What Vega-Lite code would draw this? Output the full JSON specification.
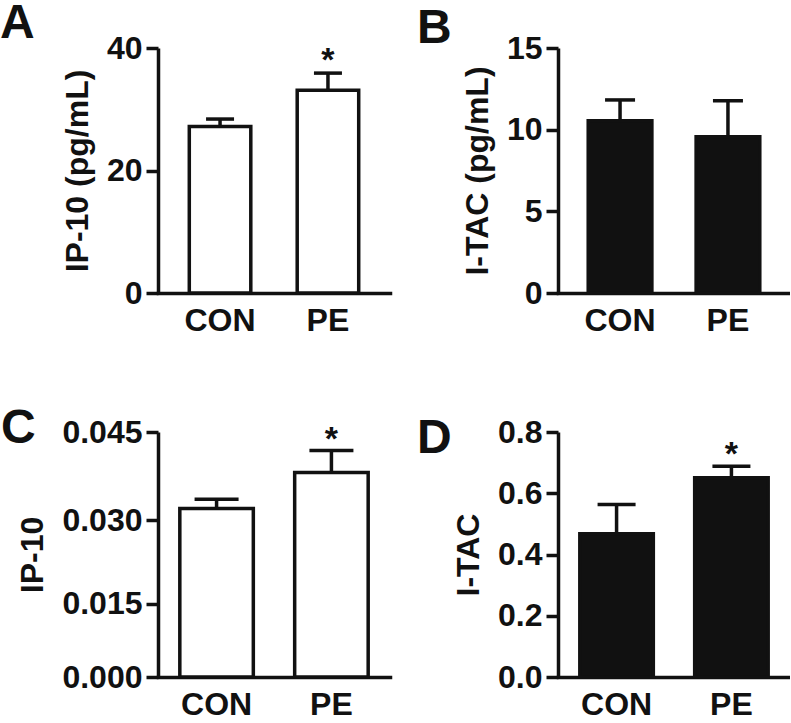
{
  "$schema": "https://vega.github.io/schema/vega-lite/v6.json",
  "padding": 0,
  "background": "white",
  "columns": 2,
  "spacing": {"row": 139, "column": 168},
  "bounds": "flush",
  "align": "all",
  "config": {
    "font": "Liberation Sans",
    "view": {"stroke": null},
    "axis": {
      "domainColor": "#111", "domainWidth": 3.5, "tickColor": "#111", "tickWidth": 3.5,
      "labelFont": "Liberation Sans", "labelFontWeight": "bold", "labelFontSize": 32, "labelColor": "#111",
      "titleFont": "Liberation Sans", "titleFontWeight": "bold", "titleFontSize": 32, "titleColor": "#111",
      "grid": false
    },
    "axisX": {"ticks": false, "labelAngle": 0, "labelPadding": 12, "title": null, "domainCap": "square"},
    "axisY": {"tickSize": 12, "labelPadding": 4, "titlePadding": 12},
    "title": {"font": "Liberation Sans", "fontSize": 48, "fontWeight": "bold", "anchor": "start", "frame": "group", "color": "#111", "offset": 0}
  },
  "concat": [
    {
      "title": {"text": "A", "dx": -158, "dy": 20},
      "width": 232, "height": 245,
      "data": {"values": [
        {"group": "CON", "mean": 27.2, "upper": 28.4, "sig": ""},
        {"group": "PE", "mean": 33.1, "upper": 35.9, "sig": "*"}
      ]},
      "encoding": {"x": {"field": "group", "type": "nominal", "sort": ["CON", "PE"], "scale": {"paddingInner": 0.43, "paddingOuter": 0.29}, "axis": {"title": null}}},
      "layer": [
        {"mark": {"type": "rule", "stroke": "#111", "strokeWidth": 3.5},
         "encoding": {"y": {"field": "mean", "type": "quantitative", "scale": {"domain": [0, 40]}, "axis": {"values": [0, 20, 40], "title": "IP-10 (pg/mL)"}}, "y2": {"field": "upper"}}},
        {"mark": {"type": "tick", "color": "#111", "thickness": 3.5, "size": 28, "opacity": 1},
         "encoding": {"y": {"field": "upper", "type": "quantitative", "scale": {"domain": [0, 40]}, "axis": {"values": [0, 20, 40], "title": "IP-10 (pg/mL)"}}}},
        {"mark": {"type": "bar", "fill": "white", "stroke": "#111", "strokeWidth": 3.5},
         "encoding": {"y": {"field": "mean", "type": "quantitative", "scale": {"domain": [0, 40]}, "axis": {"values": [0, 20, 40], "title": "IP-10 (pg/mL)"}}}},
        {"mark": {"type": "text", "fontSize": 34, "fontWeight": "bold", "baseline": "alphabetic", "dy": -2, "color": "#111"},
         "encoding": {"y": {"field": "upper", "type": "quantitative", "scale": {"domain": [0, 40]}, "axis": {"values": [0, 20, 40], "title": "IP-10 (pg/mL)"}}, "text": {"field": "sig"}}}
      ]
    },
    {
      "title": {"text": "B", "dx": -141, "dy": 25},
      "width": 232, "height": 245,
      "data": {"values": [
        {"group": "CON", "mean": 10.54, "upper": 11.82, "sig": ""},
        {"group": "PE", "mean": 9.56, "upper": 11.77, "sig": ""}
      ]},
      "encoding": {"x": {"field": "group", "type": "nominal", "sort": ["CON", "PE"], "scale": {"paddingInner": 0.41, "paddingOuter": 0.28}, "axis": {"title": null}}},
      "layer": [
        {"mark": {"type": "rule", "stroke": "#111", "strokeWidth": 3.5},
         "encoding": {"y": {"field": "mean", "type": "quantitative", "scale": {"domain": [0, 15]}, "axis": {"values": [0, 5, 10, 15], "title": "I-TAC (pg/mL)"}}, "y2": {"field": "upper"}}},
        {"mark": {"type": "tick", "color": "#111", "thickness": 3.5, "size": 30, "opacity": 1},
         "encoding": {"y": {"field": "upper", "type": "quantitative", "scale": {"domain": [0, 15]}, "axis": {"values": [0, 5, 10, 15], "title": "I-TAC (pg/mL)"}}}},
        {"mark": {"type": "bar", "fill": "#111", "stroke": "#111", "strokeWidth": 3.5},
         "encoding": {"y": {"field": "mean", "type": "quantitative", "scale": {"domain": [0, 15]}, "axis": {"values": [0, 5, 10, 15], "title": "I-TAC (pg/mL)"}}}}
      ]
    },
    {
      "title": {"text": "C", "dx": -157, "dy": 41},
      "width": 232, "height": 245,
      "data": {"values": [
        {"group": "CON", "mean": 0.032, "upper": 0.0336, "sig": ""},
        {"group": "PE", "mean": 0.0382, "upper": 0.0419, "sig": "*"}
      ]},
      "encoding": {"x": {"field": "group", "type": "nominal", "sort": ["CON", "PE"], "scale": {"paddingInner": 0.36, "paddingOuter": 0.19}, "axis": {"title": null}}},
      "layer": [
        {"mark": {"type": "rule", "stroke": "#111", "strokeWidth": 3.5},
         "encoding": {"y": {"field": "mean", "type": "quantitative", "scale": {"type": "pow", "exponent": 1.1, "domain": [0, 0.045]}, "axis": {"values": [0, 0.015, 0.03, 0.045], "format": ".3f", "title": "IP-10"}}, "y2": {"field": "upper"}}},
        {"mark": {"type": "tick", "color": "#111", "thickness": 3.5, "size": 44, "opacity": 1},
         "encoding": {"y": {"field": "upper", "type": "quantitative", "scale": {"type": "pow", "exponent": 1.1, "domain": [0, 0.045]}, "axis": {"values": [0, 0.015, 0.03, 0.045], "format": ".3f", "title": "IP-10"}}}},
        {"mark": {"type": "bar", "fill": "white", "stroke": "#111", "strokeWidth": 3.5},
         "encoding": {"y": {"field": "mean", "type": "quantitative", "scale": {"type": "pow", "exponent": 1.1, "domain": [0, 0.045]}, "axis": {"values": [0, 0.015, 0.03, 0.045], "format": ".3f", "title": "IP-10"}}}},
        {"mark": {"type": "text", "fontSize": 34, "fontWeight": "bold", "baseline": "alphabetic", "dy": -1, "color": "#111"},
         "encoding": {"y": {"field": "upper", "type": "quantitative", "scale": {"type": "pow", "exponent": 1.1, "domain": [0, 0.045]}, "axis": {"values": [0, 0.015, 0.03, 0.045], "format": ".3f", "title": "IP-10"}}, "text": {"field": "sig"}}}
      ]
    },
    {
      "title": {"text": "D", "dx": -141, "dy": 51},
      "width": 232, "height": 245,
      "data": {"values": [
        {"group": "CON", "mean": 0.468, "upper": 0.563, "sig": ""},
        {"group": "PE", "mean": 0.651, "upper": 0.688, "sig": "*"}
      ]},
      "encoding": {"x": {"field": "group", "type": "nominal", "sort": ["CON", "PE"], "scale": {"paddingInner": 0.36, "paddingOuter": 0.19}, "axis": {"title": null}}},
      "layer": [
        {"mark": {"type": "rule", "stroke": "#111", "strokeWidth": 3.5},
         "encoding": {"y": {"field": "mean", "type": "quantitative", "scale": {"domain": [0, 0.8]}, "axis": {"values": [0, 0.2, 0.4, 0.6, 0.8], "format": ".1f", "title": "I-TAC"}}, "y2": {"field": "upper"}}},
        {"mark": {"type": "tick", "color": "#111", "thickness": 3.5, "size": 38, "opacity": 1},
         "encoding": {"y": {"field": "upper", "type": "quantitative", "scale": {"domain": [0, 0.8]}, "axis": {"values": [0, 0.2, 0.4, 0.6, 0.8], "format": ".1f", "title": "I-TAC"}}}},
        {"mark": {"type": "bar", "fill": "#111", "stroke": "#111", "strokeWidth": 3.5},
         "encoding": {"y": {"field": "mean", "type": "quantitative", "scale": {"domain": [0, 0.8]}, "axis": {"values": [0, 0.2, 0.4, 0.6, 0.8], "format": ".1f", "title": "I-TAC"}}}},
        {"mark": {"type": "text", "fontSize": 34, "fontWeight": "bold", "baseline": "alphabetic", "dy": -1, "color": "#111"},
         "encoding": {"y": {"field": "upper", "type": "quantitative", "scale": {"domain": [0, 0.8]}, "axis": {"values": [0, 0.2, 0.4, 0.6, 0.8], "format": ".1f", "title": "I-TAC"}}, "text": {"field": "sig"}}}
      ]
    }
  ]
}
